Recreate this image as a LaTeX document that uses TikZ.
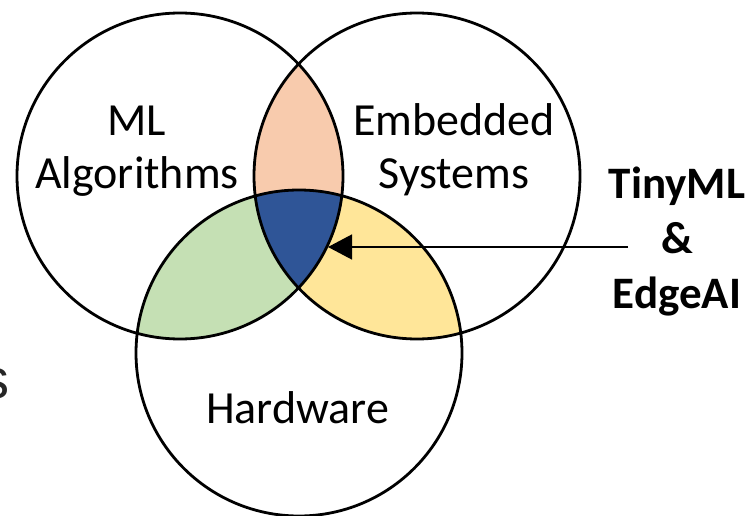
\documentclass[tikz,border=0pt]{standalone}
\usepackage{fontspec}
\setmainfont{Carlito}
\newfontfamily\libsans{Liberation Sans}
\usetikzlibrary{arrows.meta}
\definecolor{peach}{HTML}{F8CBAD}
\definecolor{leaf}{HTML}{C5E0B4}
\definecolor{butter}{HTML}{FFE699}
\definecolor{navy}{HTML}{2F5597}
\begin{document}
\begin{tikzpicture}[x=1pt,y=-1pt,
  ring/.style={draw=black,line width=2.8pt},
  lbl/.style={inner sep=0pt,align=center,anchor=base,font=\fontsize{46}{52}\selectfont},
  boldlbl/.style={inner sep=0pt,align=center,anchor=base,font=\fontsize{45}{55}\selectfont\bfseries},
  pointer/.style={line width=1.4pt,-{Triangle[length=24pt,width=25pt]}}]
\useasboundingbox (0,0) rectangle (755,516);
\coordinate (cL) at (180,176);
\coordinate (cR) at (417,176);
\coordinate (cB) at (299,353);
\def\rr{163pt}
% pairwise overlaps
\begin{scope}
  \clip (cL) circle[radius=\rr];
  \fill[peach] (cR) circle[radius=\rr];
  \fill[leaf] (cB) circle[radius=\rr];
\end{scope}
\begin{scope}
  \clip (cR) circle[radius=\rr];
  \fill[butter] (cB) circle[radius=\rr];
\end{scope}
\begin{scope}
  \clip (cL) circle[radius=\rr];
  \clip (cR) circle[radius=\rr];
  \fill[navy] (cB) circle[radius=\rr];
\end{scope}
% circles
\draw[ring] (cL) circle[radius=\rr];
\draw[ring] (cR) circle[radius=\rr];
\draw[ring] (cB) circle[radius=\rr];
% labels (base anchor = baseline of the last line)
\node[lbl] (ml) at (137,188) {ML\\Algorithms};
\node[lbl] (emb) at (454,188) {Embedded\\Systems};
\node[lbl] (hw) at (297.5,423) {Hardware};
\node[boldlbl] (tiny) at (677,308) {TinyML\\\&\\EdgeAI};
\node[inner sep=0pt,anchor=base east,text=black!85,font=\libsans\fontsize{56}{60}\selectfont] (cut) at (10,398) {s};
% pointer
\coordinate (src) at (628,247);
\coordinate (tip) at (328,247);
\draw[pointer] (src) -- (tip);
\end{tikzpicture}
\end{document}
